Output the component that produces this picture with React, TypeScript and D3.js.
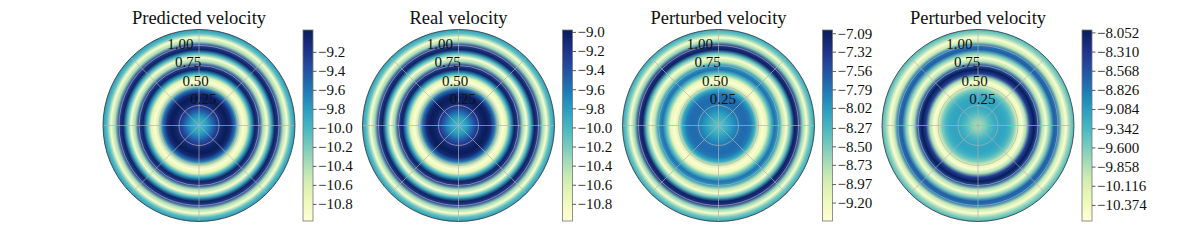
import React, { useEffect, useRef } from "react";
import * as d3 from "d3";

// radii (in data units) where the profile was read, rmax = 1.2
const radii = [0, 0.05, 0.1, 0.15, 0.2, 0.25, 0.3, 0.35, 0.4, 0.45, 0.5, 0.55, 0.6, 0.65, 0.7, 0.75, 0.8, 0.85, 0.9, 0.95, 1.0, 1.05, 1.1, 1.15, 1.2];

const titles = ["Predicted velocity", "Real velocity", "Perturbed velocity", "Perturbed velocity"];

const predicted = [-9.97, -9.93, -9.81, -9.61, -9.37, -9.17, -9.03, -8.97, -9.11, -9.57, -10.48, -10.92, -10.68, -9.88, -9.03, -9.27, -10.38, -10.88, -9.98, -9.03, -9.27, -10.38, -10.88, -10.08, -9.77];
const real = [-9.98, -9.94, -9.82, -9.62, -9.38, -9.18, -9.04, -8.98, -9.1, -9.56, -10.46, -10.93, -10.7, -9.9, -9.04, -9.25, -10.35, -10.9, -10.0, -9.04, -9.25, -10.35, -10.9, -10.1, -9.8];
const perturbedA = [-8.36, -8.31, -8.19, -8.05, -7.91, -7.79, -7.72, -7.72, -7.81, -8.14, -8.97, -9.36, -9.14, -8.38, -7.76, -8.0, -8.85, -9.31, -8.38, -7.12, -7.29, -8.62, -9.31, -8.48, -8.1];
const perturbedB = [-9.82, -9.74, -9.56, -9.38, -9.25, -9.18, -9.15, -9.18, -9.31, -9.62, -10.23, -10.51, -9.85, -8.41, -8.02, -8.53, -9.85, -10.46, -9.62, -8.66, -8.79, -9.98, -10.51, -9.72, -9.31];

const ranges = [
  [-10.98, -8.97],
  [-10.98, -8.98],
  [-9.43, -7.05],
  [-10.59, -8.02],
];

const ticks1 = [-9.2, -9.4, -9.6, -9.8, -10.0, -10.2, -10.4, -10.6, -10.8];
const ticks2 = [-9.0, -9.2, -9.4, -9.6, -9.8, -10.0, -10.2, -10.4, -10.6, -10.8];
const ticks3 = [-7.09, -7.32, -7.56, -7.79, -8.02, -8.27, -8.5, -8.73, -8.97, -9.2];
const ticks4 = [-8.052, -8.31, -8.568, -8.826, -9.084, -9.342, -9.6, -9.858, -10.116, -10.374];
const tickDigits = [1, 1, 2, 3];

const gridRadii = [0.25, 0.5, 0.75, 1.0];
const rmax = 1.2;

const App = () => {
  const ref = useRef<SVGSVGElement>(null);

  useEffect(() => {
    const svg = d3.select(ref.current);
    svg.selectAll("*").remove();

    const W = 1196;
    const H = 249;
    svg.attr("width", W).attr("height", H);

    const series = [predicted, real, perturbedA, perturbedB];
    const tickSets = [ticks1, ticks2, ticks3, ticks4];
    const centers = [199, 458.5, 718.5, 978];
    const cy = 125.5;
    const R = 96;
    const font = "'Liberation Serif', 'DejaVu Serif', serif";

    const defs = svg.append("defs");
    const rs = d3.scaleLinear().domain([0, rmax]).range([0, R]);

    // colorbar gradient (shared)
    const cbGrad = defs
      .append("linearGradient")
      .attr("id", "cbgrad")
      .attr("x1", 0)
      .attr("y1", 1)
      .attr("x2", 0)
      .attr("y2", 0);
    d3.range(0, 1.0001, 0.02).forEach((t) => {
      cbGrad.append("stop").attr("offset", t).attr("stop-color", d3.interpolateYlGnBu(t));
    });

    series.forEach((vals, i) => {
      const cx = centers[i];
      const [vmin, vmax] = ranges[i];
      const color = d3.scaleSequential(d3.interpolateYlGnBu).domain([vmin, vmax]);

      const grad = defs
        .append("radialGradient")
        .attr("id", `rg${i}`)
        .attr("gradientUnits", "userSpaceOnUse")
        .attr("cx", cx)
        .attr("cy", cy)
        .attr("fx", cx)
        .attr("fy", cy)
        .attr("r", R);
      vals.forEach((v, k) => {
        grad
          .append("stop")
          .attr("offset", radii[k] / rmax)
          .attr("stop-color", color(v));
      });

      const g = svg.append("g");
      g.append("circle").attr("cx", cx).attr("cy", cy).attr("r", R).attr("fill", `url(#rg${i})`);

      // grid
      gridRadii.forEach((r) => {
        g.append("circle")
          .attr("cx", cx)
          .attr("cy", cy)
          .attr("r", rs(r))
          .attr("fill", "none")
          .attr("stroke", "#b0b0b0")
          .attr("stroke-opacity", 0.85)
          .attr("stroke-width", 0.8);
      });
      d3.range(0, 360, 45).forEach((a) => {
        const rad = (a * Math.PI) / 180;
        g.append("line")
          .attr("x1", cx)
          .attr("y1", cy)
          .attr("x2", cx + R * Math.cos(rad))
          .attr("y2", cy - R * Math.sin(rad))
          .attr("stroke", "#b0b0b0")
          .attr("stroke-opacity", 0.85)
          .attr("stroke-width", 0.8);
      });
      g.append("circle")
        .attr("cx", cx)
        .attr("cy", cy)
        .attr("r", R)
        .attr("fill", "none")
        .attr("stroke", "#333")
        .attr("stroke-width", 0.8);

      // radial labels at 112.5 deg
      const la = (112.5 * Math.PI) / 180;
      gridRadii.forEach((r) => {
        g.append("text")
          .attr("x", cx + rs(r) * Math.cos(la) + 12)
          .attr("y", cy - rs(r) * Math.sin(la) - 8)
          .attr("dy", "0.35em")
          .attr("text-anchor", "middle")
          .attr("font-family", font)
          .attr("font-size", 15)
          .attr("fill", "#111")
          .text(r.toFixed(2));
      });

      g.append("text")
        .attr("x", cx)
        .attr("y", 24)
        .attr("text-anchor", "middle")
        .attr("font-family", font)
        .attr("font-size", 18.5)
        .attr("fill", "#111")
        .text(titles[i]);

      // colorbar
      const cbx = cx + 104;
      const cbTop = 30;
      const cbBot = 221;
      const cbW = 10;
      const y = d3.scaleLinear().domain([vmin, vmax]).range([cbBot, cbTop]);
      g.append("rect")
        .attr("x", cbx)
        .attr("y", cbTop)
        .attr("width", cbW)
        .attr("height", cbBot - cbTop)
        .attr("fill", "url(#cbgrad)")
        .attr("stroke", "#777")
        .attr("stroke-width", 0.8);

      const axis = d3
        .axisRight(y)
        .tickValues(tickSets[i])
        .tickSize(3.5)
        .tickFormat((d) => (d as number).toFixed(tickDigits[i]).replace("-", "\u2212"));
      const ag = g.append("g").attr("transform", `translate(${cbx + cbW},0)`).call(axis);
      ag.select(".domain").remove();
      ag.selectAll(".tick line").attr("stroke", "#333").attr("stroke-width", 0.8);
      ag.selectAll(".tick text")
        .attr("x", 5)
        .attr("font-family", font)
        .attr("font-size", 15)
        .attr("fill", "#111");
    });
  }, []);

  return (
    <div style={{ position: "absolute", left: 0, top: 0 }}>
      <svg ref={ref} style={{ display: "block", background: "#fff" }} />
    </div>
  );
};

export default App;
